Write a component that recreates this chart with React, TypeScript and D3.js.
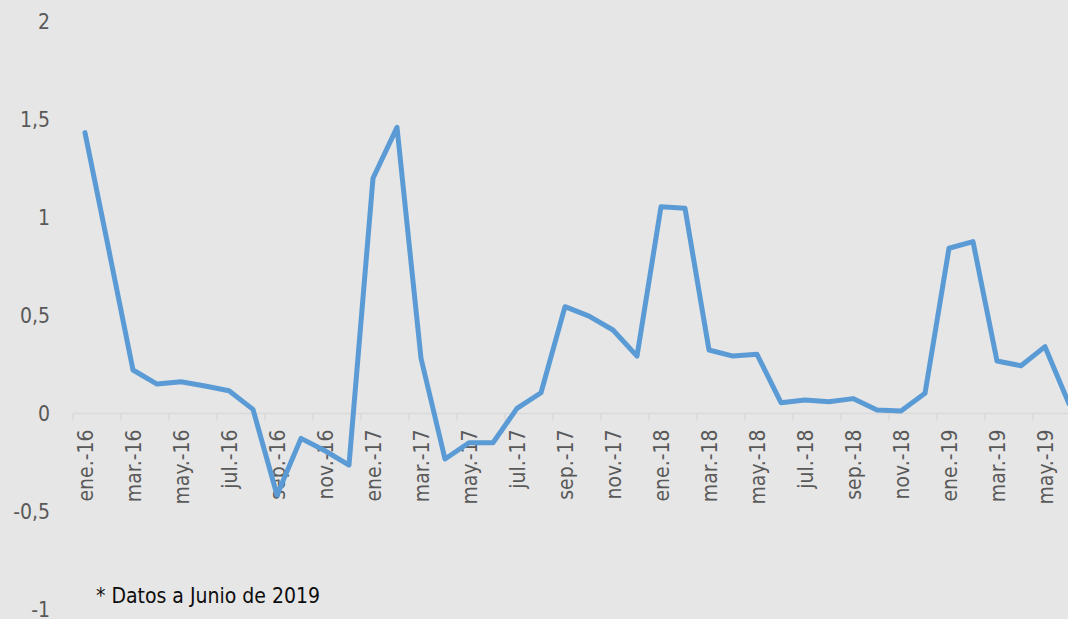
import React from "react";
import * as d3 from "d3";

const months = [
  "ene.-16","feb.-16","mar.-16","abr.-16","may.-16","jun.-16","jul.-16","ago.-16","sep.-16","oct.-16","nov.-16","dic.-16",
  "ene.-17","feb.-17","mar.-17","abr.-17","may.-17","jun.-17","jul.-17","ago.-17","sep.-17","oct.-17","nov.-17","dic.-17",
  "ene.-18","feb.-18","mar.-18","abr.-18","may.-18","jun.-18","jul.-18","ago.-18","sep.-18","oct.-18","nov.-18","dic.-18",
  "ene.-19","feb.-19","mar.-19","abr.-19","may.-19","jun.-19",
];

const values = [
  1.433, 0.83, 0.222, 0.15, 0.162, 0.14, 0.116, 0.021, -0.416, -0.127, -0.19, -0.263,
  1.2, 1.46, 0.282, -0.232, -0.149, -0.149, 0.026, 0.106, 0.545, 0.497, 0.426, 0.293,
  1.055, 1.047, 0.324, 0.293, 0.302, 0.055, 0.069, 0.06, 0.076, 0.018, 0.013, 0.103,
  0.843, 0.877, 0.268, 0.244, 0.341, 0.05,
];

const yTicks = [-1, -0.5, 0, 0.5, 1, 1.5, 2];
const note = "* Datos a Junio de 2019";

const W = 1068;
const H = 619;
const FONT = "'DejaVu Sans Condensed', 'DejaVu Sans', sans-serif";

export default function App() {
  const x = d3
    .scaleBand<string>()
    .domain(months)
    .range([73, 73 + months.length * 24])
    .padding(0);
  const y = d3.scaleLinear().domain([-1, 2]).range([609.5, 21.5]);
  const cx = (m: string) => (x(m) as number) + x.bandwidth() / 2;

  const line = d3
    .line<number>()
    .x((_, i) => cx(months[i]))
    .y((d) => y(d));

  const fmt = (v: number) => String(v).replace(".", ",");
  const y0 = y(0);

  return (
    <svg
      width={W}
      height={H}
      style={{ position: "absolute", left: 0, top: 0, background: "#e6e6e6" }}
      fontFamily={FONT}
    >
      <rect x={0} y={0} width={W} height={H} fill="#e6e6e6" />
      {yTicks.map((t) => (
        <text
          key={t}
          x={50}
          y={y(t)}
          dy="0.36em"
          textAnchor="end"
          fontSize={21}
          fill="#595959"
        >
          {fmt(t)}
        </text>
      ))}
      <line x1={73} x2={W} y1={y0} y2={y0} stroke="#d9d9d9" strokeWidth={1.5} />
      {months.map((m, i) =>
        i % 2 === 0 ? (
          <line
            key={"t" + m}
            x1={x(m) as number}
            x2={x(m) as number}
            y1={y0}
            y2={y0 + 7}
            stroke="#d9d9d9"
            strokeWidth={1.5}
          />
        ) : null
      )}
      {months.map((m, i) =>
        i % 2 === 0 ? (
          <text
            key={"l" + m}
            transform={`translate(${cx(m)},${y0 + 16}) rotate(-90)`}
            dy="0.36em"
            textAnchor="end"
            fontSize={21}
            fill="#595959"
          >
            {m}
          </text>
        ) : null
      )}
      <path
        d={line(values) || ""}
        fill="none"
        stroke="#5b9bd5"
        strokeWidth={5}
        strokeLinejoin="round"
        strokeLinecap="round"
      />
      <text x={96} y={603} fontSize={21} fill="#0d0d0d">
        {note}
      </text>
    </svg>
  );
}
